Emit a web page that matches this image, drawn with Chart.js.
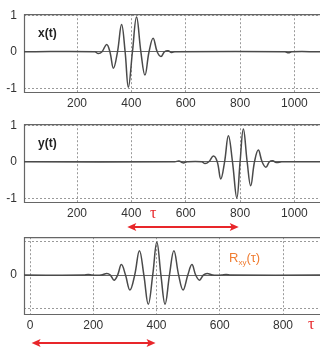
<!DOCTYPE html>
<html>
<head>
<meta charset="utf-8">
<script src="https://cdn.jsdelivr.net/npm/chart.js@4.4.1/dist/chart.umd.min.js"></script>
<style>
  body { margin:0; width:320px; height:348px; overflow:hidden; background:#fff; position:relative;
         font-family:"Liberation Sans", Arial, sans-serif; }
  .panel { position:absolute; left:0; width:320px; }
  .lbl { position:absolute; white-space:nowrap; line-height:1; }
  .sig { font-weight:bold; font-size:12px; color:#222; }
  .tau { color:#e8262a; font-size:16px; font-family:"Liberation Serif", serif; }
  .rxy { color:#f07d32; font-size:13px; }
  .rxy sub { font-size:8px; vertical-align:-3px; }
</style>
</head>
<body>
<div class="panel" style="top:0;height:109px"><canvas id="xChart"></canvas></div>
<div class="panel" style="top:110px;height:125px"><canvas id="yChart"></canvas></div>
<div class="panel" style="top:223px;height:128px"><canvas id="rChart"></canvas></div>

<span class="lbl sig" style="left:38px;top:27px">x(t)</span>
<span class="lbl sig" style="left:38px;top:137px">y(t)</span>
<span class="lbl tau" style="left:150px;top:205px">τ</span>
<span class="lbl rxy" style="left:229px;top:251px">R<sub>xy</sub>(τ)</span>
<span class="lbl tau" style="left:308px;top:316px">τ</span>

<script>
// x(t) : wavelet around t = 400
const xTimes  = [5, 266, 278, 292, 309, 321, 334, 349, 364, 377, 389, 404, 419, 435, 450, 465, 480, 495, 509, 522, 535, 548, 560, 965, 978, 990, 1094];
const xValues = [0, 0, -0.05, 0, 0.2, 0, -0.45, 0, 0.75, 0, -0.97, 0, 0.95, 0, -0.64, 0, 0.37, 0, -0.13, 0, 0.03, -0.02, 0, 0, -0.03, 0, 0];

// y(t) : same wavelet, delayed
const yTimes  = [5, 560, 575, 590, 605, 659, 671, 685, 702, 716, 729, 743, 757, 772, 788, 800, 812, 826, 839, 853, 867, 881, 895, 908, 920, 933, 953, 1094];
const yValues = [0, 0, 0.02, -0.03, 0, 0, -0.05, 0, 0.16, 0, -0.47, 0, 0.71, 0, -0.99, 0, 0.9, 0, -0.66, 0, 0.32, 0, -0.15, 0, 0.03, -0.02, 0, 0];

// Rxy(tau) : cross-correlation, peak at the lag
const rLags   = [-19, 170, 184, 198, 225, 243, 254, 266, 277, 289, 302, 316, 331, 346, 360, 374, 388, 401, 414, 427, 441, 455, 470, 484, 499, 512, 524, 536, 548, 560, 578, 605, 620, 635, 917];
const rValues = [0, 0, 0.02, 0, 0, 0.05, 0, -0.15, 0, 0.31, 0, -0.44, 0, 0.72, 0, -0.86, 0, 0.97, 0, -0.86, 0, 0.72, 0, -0.44, 0, 0.31, 0, -0.15, 0, 0.05, 0, 0, 0.02, 0, 0];

const timeTicks = [200, 400, 600, 800, 1000];
const lagTicks  = [0, 200, 400, 600, 800];
const ampTicks  = [-1, 0, 1];

const yArrowSpan = [385, 795];
const rArrowSpan = [5, 397];

const FONT = '"Liberation Sans", Arial, sans-serif';
const RED = '#e8262a';

const frame = {
  id: 'frame',
  beforeDatasetsDraw(chart) {
    const { ctx, chartArea: { left, top, right, bottom } } = chart;
    ctx.save();
    ctx.strokeStyle = '#666';
    ctx.lineWidth = 1.2;
    ctx.beginPath();
    ctx.moveTo(right, top + 0.5);
    ctx.lineTo(left + 0.5, top + 0.5);
    ctx.lineTo(left + 0.5, bottom - 0.5);
    ctx.lineTo(right, bottom - 0.5);
    ctx.stroke();
    ctx.restore();
  }
};

const lagArrow = {
  id: 'lagArrow',
  afterDraw(chart, args, opts) {
    if (!opts || !opts.span) return;
    const sx = chart.scales.x;
    const x1 = sx.getPixelForValue(opts.span[0]);
    const x2 = sx.getPixelForValue(opts.span[1]);
    const y = chart.chartArea.bottom + opts.offset;
    const ctx = chart.ctx;
    ctx.save();
    ctx.strokeStyle = RED;
    ctx.fillStyle = RED;
    ctx.lineWidth = 2;
    ctx.beginPath();
    ctx.moveTo(x1 + 5, y);
    ctx.lineTo(x2 - 5, y);
    ctx.stroke();
    ctx.beginPath();
    ctx.moveTo(x1, y); ctx.lineTo(x1 + 9, y - 4); ctx.lineTo(x1 + 7, y); ctx.lineTo(x1 + 9, y + 4); ctx.closePath();
    ctx.moveTo(x2, y); ctx.lineTo(x2 - 9, y - 4); ctx.lineTo(x2 - 7, y); ctx.lineTo(x2 - 9, y + 4); ctx.closePath();
    ctx.fill();
    ctx.restore();
  }
};

function makeChart(id, cfg) {
  return new Chart(document.getElementById(id), {
    type: 'line',
    data: {
      datasets: [{
        data: cfg.xs.map((x, i) => ({ x, y: cfg.ys[i] })),
        borderColor: '#4a4a4a',
        borderWidth: 1.5,
        pointRadius: 0,
        tension: 0.4,
        fill: false
      }]
    },
    options: {
      animation: false,
      responsive: true,
      maintainAspectRatio: false,
      layout: { padding: { top: 14, right: 0, bottom: cfg.padBottom, left: 0 } },
      plugins: { legend: { display: false }, tooltip: { enabled: false }, lagArrow: cfg.arrow || {} },
      scales: {
        x: {
          type: 'linear', min: cfg.xMin, max: cfg.xMax,
          afterBuildTicks: s => { s.ticks = cfg.xTicks.map(v => ({ value: v })); },
          afterFit: s => { s.height = 16; },
          grid: { color: '#9a9a9a', drawTicks: false },
          border: { display: false, dash: [2, 2] },
          ticks: { color: '#333', font: { family: FONT, size: 12 }, padding: 3, maxRotation: 0, autoSkip: false,
                   callback: v => String(v) }
        },
        y: {
          min: cfg.yMin, max: cfg.yMax,
          afterBuildTicks: s => { s.ticks = ampTicks.map(v => ({ value: v })); },
          afterFit: s => { s.width = 24; },
          grid: { color: c => c.tick && c.tick.value === 0 ? '#666' : '#9a9a9a', drawTicks: false },
          border: { display: false, dash: c => c.tick && c.tick.value === 0 ? [] : [2, 2] },
          ticks: { color: '#333', font: { family: FONT, size: 12 }, padding: 7,
                   callback: v => (cfg.onlyZero && v !== 0) ? '' : String(v) }
        }
      }
    },
    plugins: [frame, lagArrow]
  });
}

makeChart('xChart', { xs: xTimes, ys: xValues, xMin: 5, xMax: 1094, xTicks: timeTicks,
                      yMin: -1.13, yMax: 1.03, padBottom: 0 });
makeChart('yChart', { xs: yTimes, ys: yValues, xMin: 5, xMax: 1094, xTicks: timeTicks,
                      yMin: -1.13, yMax: 1.03, padBottom: 16, arrow: { span: yArrowSpan, offset: 24 } });
makeChart('rChart', { xs: rLags, ys: rValues, xMin: -19, xMax: 917, xTicks: lagTicks,
                      yMin: -1.18, yMax: 1.12, padBottom: 20, onlyZero: true, arrow: { span: rArrowSpan, offset: 28 } });
</script>
</body>
</html>
